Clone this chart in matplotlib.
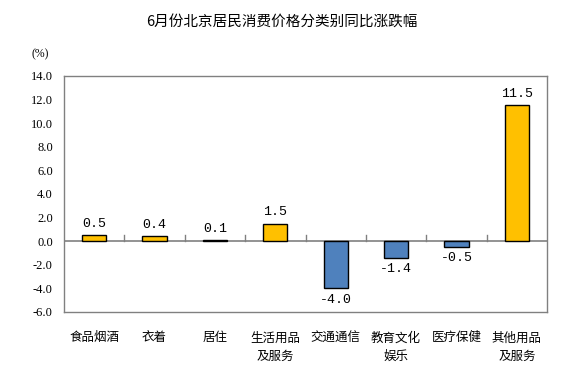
import matplotlib
matplotlib.use("Agg")
import matplotlib.pyplot as plt

plt.rcParams['font.family'] = ['Noto Sans CJK SC', 'DejaVu Sans']

categories = ['食品烟酒', '衣着', '居住', '生活用品\n及服务', '交通通信', '教育文化\n娱乐', '医疗保健', '其他用品\n及服务']
values = [0.5, 0.4, 0.1, 1.5, -4.0, -1.4, -0.5, 11.5]
yticks = [-6, -4, -2, 0, 2, 4, 6, 8, 10, 12, 14]

fig = plt.figure(figsize=(5.79, 3.83), dpi=100)
ax = fig.add_axes([64/579, 1-312/383, (547-64)/579, (312-76)/383])

colors = ['#FFC000' if v >= 0 else '#4F81BD' for v in values]
x = list(range(len(values)))
ax.bar(x, values, width=0.4, color=colors, edgecolor='black', linewidth=1, zorder=3)

for xi, v in zip(x, values):
    if v >= 0:
        ax.text(xi, v + 0.45, '%.1f' % v, ha='center', va='bottom', fontsize=9.5,
                family=['Liberation Mono', 'DejaVu Sans'])
    else:
        ax.text(xi, v - 0.45, '%.1f' % v, ha='center', va='top', fontsize=9.5,
                family=['Liberation Mono', 'DejaVu Sans'])

ax.set_xlim(-0.5, len(values) - 0.5)
ax.set_ylim(-6, 14)
ax.set_yticks(yticks)
ax.set_yticklabels(['%.1f' % t for t in yticks], family=['Liberation Serif'], fontsize=9)
ax.tick_params(axis='y', length=0, pad=8)

# zero line with category separators
ax.axhline(0, color='#808080', linewidth=1.2, zorder=2)
for b in range(1, len(values)):
    ax.plot([b - 0.5, b - 0.5], [0, 0.5], color='#808080', linewidth=1, zorder=2)

ax.set_xticks(x)
ax.set_xticklabels(categories, fontsize=9, linespacing=1.5, va='top')
ax.tick_params(axis='x', length=0, pad=14)

for s in ax.spines.values():
    s.set_color('#808080')
    s.set_linewidth(1)

fig.text(40/579, 1-54/383, '(%)', ha='center', va='center', fontsize=8.5, family=['Liberation Serif'])
fig.suptitle('6月份北京居民消费价格分类别同比涨跌幅', x=282/579, y=1-22/383, va='center', fontsize=10.5)

fig.savefig('out.png', dpi=100)
